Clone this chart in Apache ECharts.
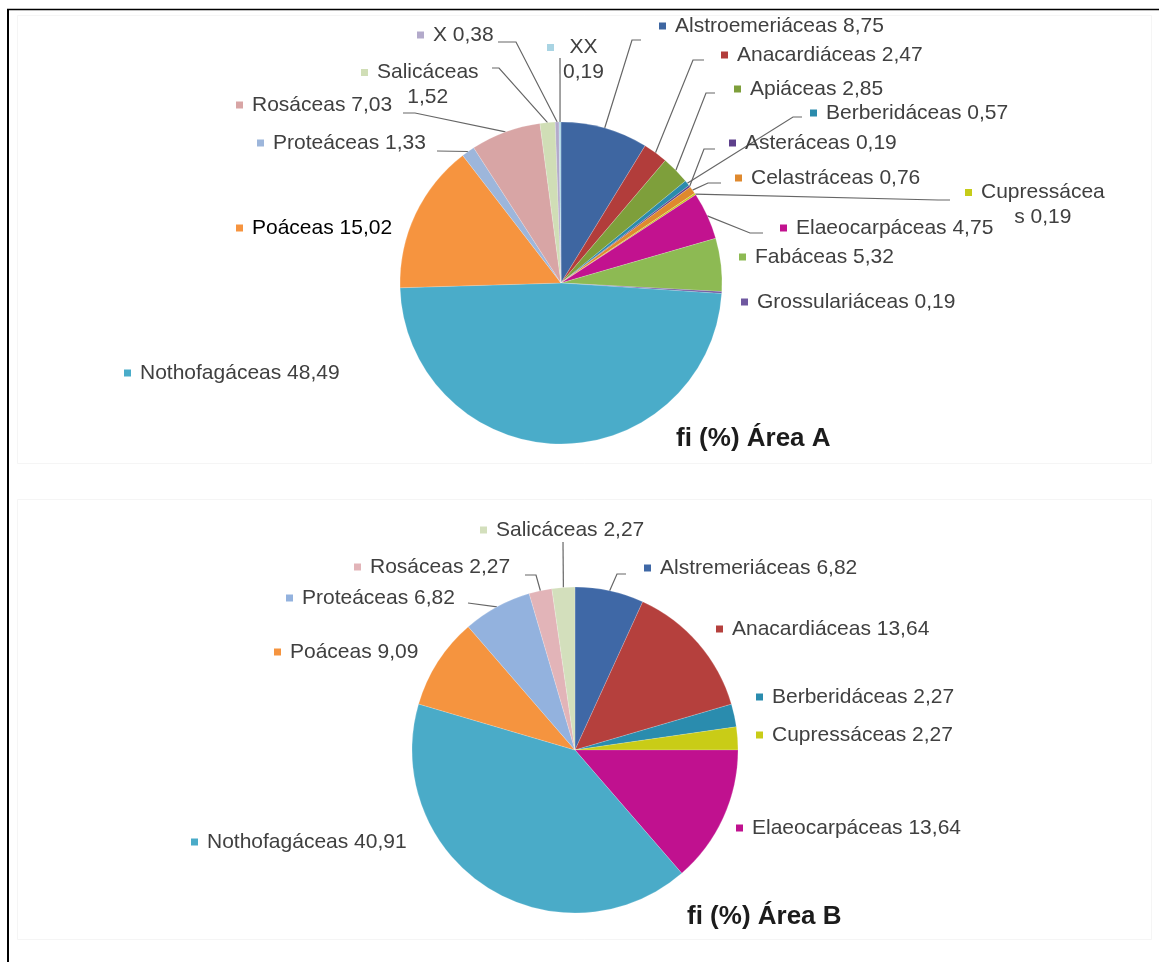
<!DOCTYPE html>
<html>
<head>
<meta charset="utf-8">
<script src="https://cdn.jsdelivr.net/npm/echarts@6/dist/echarts.min.js"></script>
<style>
  html, body { margin: 0; padding: 0; background: #ffffff; }
  #chart { width: 1159px; height: 962px; }
</style>
</head>
<body>
<div id="chart"></div>
<script>
// Relative frequency (fi, %) of plant families, Área A
const familiesA = ['Alstroemeriáceas', 'Anacardiáceas', 'Apiáceas', 'Berberidáceas', 'Asteráceas',
  'Celastráceas', 'Cupressáceas', 'Elaeocarpáceas', 'Fabáceas', 'Grossulariáceas',
  'Nothofagáceas', 'Poáceas', 'Proteáceas', 'Rosáceas', 'Salicáceas', 'X', 'XX'];
const fiA = [8.75, 2.47, 2.85, 0.57, 0.19, 0.76, 0.19, 4.75, 5.32, 0.19,
  48.49, 15.02, 1.33, 7.03, 1.52, 0.38, 0.19];

// Relative frequency (fi, %) of plant families, Área B
const familiesB = ['Alstremeriáceas', 'Anacardiáceas', 'Berberidáceas', 'Cupressáceas', 'Elaeocarpáceas',
  'Nothofagáceas', 'Poáceas', 'Proteáceas', 'Rosáceas', 'Salicáceas'];
const fiB = [6.82, 13.64, 2.27, 2.27, 13.64, 40.91, 9.09, 6.82, 2.27, 2.27];

const titleA = 'fi (%) Área A';
const titleB = 'fi (%) Área B';

// Slice colours
const colorsA = ['#3E66A1', '#B23D3B', '#7E9F3B', '#2B8BAC', '#5E408C', '#DF892E', '#C6CC19', '#C2128F',
  '#8DBA53', '#6F58A0', '#4AACC9', '#F6943F', '#9DB6DB', '#D8A5A5', '#D0DEB6', '#B3AACB', '#A9D4E3'];
const colorsB = ['#3F68A6', '#B5403D', '#2A8CAE', '#C9CC17', '#C0118F', '#4AABC8', '#F5943F',
  '#93B2DE', '#E2B4B8', '#D3DFBC'];

// Label placement: [text start x of the widest line, vertical centre y]
const labelPosA = [[675, 26], [737, 55], [750, 89], [826, 113], [745, 143], [751, 178], [981, 205],
  [796, 228], [755, 257], [757, 302], [140, 373], [252, 228], [273, 143], [252, 105], [377, 85],
  [433, 35], [563, 60]];
const labelPosB = [[660, 568], [732, 629], [772, 697], [772, 735], [752, 828], [207, 842],
  [290, 652], [302, 598], [370, 567], [496, 530]];

// Leader line bends (from the slice edge outward); slices without an entry get no leader
const leadersA = {
  0: [[632, 40], [641, 40]], 1: [[693, 60], [704, 60]], 2: [[706, 93], [715, 93]],
  3: [[793, 117], [802, 117]], 4: [[704, 149], [715, 149]], 5: [[708, 183], [721, 183]],
  6: [[938, 200], [950, 200]], 7: [[750, 233], [763, 233]], 12: [[437, 151]],
  13: [[415, 113], [403, 113]], 14: [[499, 68], [492, 68]], 15: [[516, 42], [498, 42]],
  16: [[560, 58]]
};
const leadersB = {
  0: [[617, 574], [626, 574]], 7: [[468, 603]], 8: [[536, 575], [525, 575]], 9: [[563, 542]]
};

// Where the label text wraps onto a second line (character index)
const wrapA = { 'Cupressáceas': 11, 'Salicáceas': 10, 'XX': 2 };
const wrapB = {};
// Label ink overrides
const inkA = { 'Poáceas': '#000000' };

const FONT = '"Liberation Sans", Arial, sans-serif';
const LABEL_SIZE = 21;
const KEY = 7;      // legend key square
const KEY_GAP = 9;  // space between key and text

const measureCtx = document.createElement('canvas').getContext('2d');
measureCtx.font = LABEL_SIZE + 'px ' + FONT;
function textWidth(s) { return measureCtx.measureText(s).width; }

function fmt(v) { return v.toFixed(2).replace('.', ','); }

// Splits "name value" into lines; wrapped lines are centred on each other,
// with the key square hanging left of the first line.
function buildLabel(name, value, brk) {
  const s = name + ' ' + fmt(value);
  let lines = [s];
  if (brk != null) {
    lines = [s.slice(0, brk), s.slice(s[brk] === ' ' ? brk + 1 : brk)];
  }
  const widths = lines.map(textWidth);
  const maxW = Math.max.apply(null, widths);
  const text = lines.map((l, i) => (i === 0 ? '{m|}' : '') + '{s' + i + '|}{t|' + l + '}').join('\n');
  const offsets = widths.map(w => (maxW - w) / 2);
  return { text, offsets };
}

function richFor(color, ink, offsets) {
  const r = {
    m: { width: KEY, height: KEY, backgroundColor: color },
    t: { fontFamily: FONT, fontSize: LABEL_SIZE, color: ink, lineHeight: 25 }
  };
  offsets.forEach((o, i) => {
    r['s' + i] = { width: (i === 0 ? KEY_GAP : KEY + KEY_GAP) + o, height: 1 };
  });
  return r;
}

function pieSeries(names, values, colors, pos, leaders, wraps, inks, center, radius) {
  const labels = names.map((n, i) => buildLabel(n, values[i], wraps[n]));
  const data = names.map((n, i) => ({
    name: n,
    value: values[i],
    itemStyle: { color: colors[i] },
    label: { rich: richFor(colors[i], inks[n] || '#404040', labels[i].offsets) },
    labelLine: { show: !!leaders[i] }
  }));
  return {
    type: 'pie',
    center: center,
    radius: radius,
    startAngle: 90,
    clockwise: true,
    avoidLabelOverlap: false,
    silent: true,
    animation: false,
    itemStyle: { borderColor: 'rgba(255,255,255,0.35)', borderWidth: 0.5 },
    label: {
      show: true,
      position: 'outside',
      formatter: p => labels[p.dataIndex].text
    },
    labelLine: {
      show: true,
      length: 10,
      length2: 10,
      lineStyle: { color: '#666666', width: 1.2 }
    },
    labelLayout: function (p) {
      const xy = pos[p.dataIndex];
      const out = { x: xy[0] - KEY - KEY_GAP, y: xy[1], align: 'left', verticalAlign: 'middle' };
      const lead = leaders[p.dataIndex];
      if (lead && p.labelLinePoints) {
        out.labelLinePoints = [p.labelLinePoints[0]].concat(lead);
      }
      return out;
    },
    data: data
  };
}

const chart = echarts.init(document.getElementById('chart'), null, { renderer: 'canvas' });

chart.setOption({
  backgroundColor: '#ffffff',
  animation: false,
  graphic: [
    { type: 'rect', silent: true, shape: { x: 17.5, y: 15.5, width: 1134, height: 448 },
      style: { fill: null, stroke: '#f5f5f5', lineWidth: 1 } },
    { type: 'rect', silent: true, shape: { x: 17.5, y: 499.5, width: 1134, height: 440 },
      style: { fill: null, stroke: '#f5f5f5', lineWidth: 1 } },
    { type: 'line', silent: true, shape: { x1: 7, y1: 9.5, x2: 1159, y2: 9.5 },
      style: { stroke: '#000000', lineWidth: 1.5 } },
    { type: 'line', silent: true, shape: { x1: 8, y1: 9, x2: 8, y2: 962 },
      style: { stroke: '#000000', lineWidth: 2 } },
    { type: 'text', silent: true, x: 676, y: 439,
      style: { text: titleA, font: 'bold 26px ' + FONT, fill: '#1c1c1c', align: 'left', verticalAlign: 'middle' } },
    { type: 'text', silent: true, x: 687, y: 917,
      style: { text: titleB, font: 'bold 26px ' + FONT, fill: '#1c1c1c', align: 'left', verticalAlign: 'middle' } }
  ],
  series: [
    pieSeries(familiesA, fiA, colorsA, labelPosA, leadersA, wrapA, inkA, [561, 283], 161),
    pieSeries(familiesB, fiB, colorsB, labelPosB, leadersB, wrapB, {}, [575, 750], 163)
  ]
});
</script>
</body>
</html>
